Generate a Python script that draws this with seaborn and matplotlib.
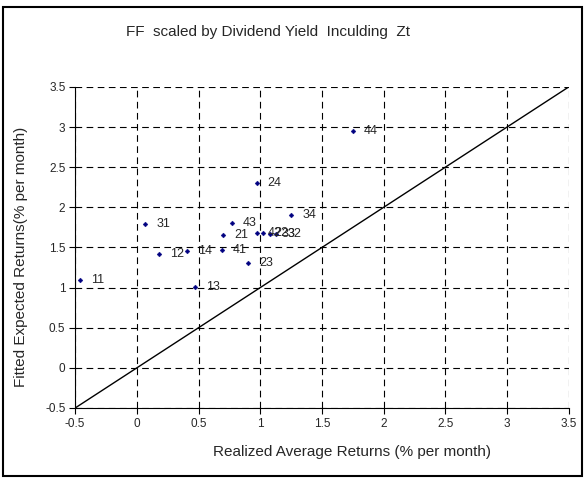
import numpy as np
import pandas as pd
import seaborn as sns
import matplotlib.pyplot as plt
from matplotlib.patches import Rectangle

# Portfolio labels and their realized / fitted returns (% per month)
portfolios = ["11", "12", "13", "14", "21", "22", "23", "24",
              "31", "32", "33", "34", "41", "42", "43", "44"]
realized = [-0.46, 0.18, 0.47, 0.41, 0.70, 1.02, 0.90, 0.97,
            0.07, 1.13, 1.08, 1.25, 0.69, 0.97, 0.77, 1.75]
fitted = [1.10, 1.42, 1.01, 1.45, 1.65, 1.68, 1.31, 2.30,
          1.79, 1.67, 1.67, 1.91, 1.47, 1.68, 1.81, 2.95]

# 45 degree reference line
line_x = [-0.5, 3.5]
line_y = [-0.5, 3.5]

ticks = np.arange(-0.5, 3.51, 0.5)
tick_labels = ["-0.5", "0", "0.5", "1", "1.5", "2", "2.5", "3", "3.5"]

df = pd.DataFrame({"port": portfolios, "realized": realized, "fitted": fitted})

sns.set_style("white")
plt.rcParams["font.family"] = ["Liberation Sans", "DejaVu Sans"]

fig = plt.figure(figsize=(5.87, 4.80), dpi=100)
ax = fig.add_axes([0.128, 0.15, 0.841, 0.669])

# dashed grid
for t in ticks:
    ax.axvline(t, color="black", lw=0.8, ls=(0, (6, 4)), zorder=1)
    ax.axhline(t, color="black", lw=0.8, ls=(0, (6, 4)), zorder=1)

sns.lineplot(x=line_x, y=line_y, color="black", lw=1, ax=ax, zorder=2)
sns.scatterplot(data=df, x="realized", y="fitted", color="#000080", marker="D",
                s=6, edgecolor="#000080", linewidth=0.3, ax=ax, zorder=3)

for _, r in df.iterrows():
    ax.annotate(r["port"], (r["realized"], r["fitted"]), xytext=(8, 0),
                textcoords="offset points", va="center", ha="left", fontsize=9)

ax.set_xlim(-0.5, 3.5)
ax.set_ylim(-0.5, 3.5)
ax.set_xticks(ticks)
ax.set_xticklabels(tick_labels, fontsize=8.5)
ax.set_yticks(ticks)
ax.set_yticklabels(tick_labels, fontsize=8.5)
ax.tick_params(direction="out", length=4, width=0.8, color="black", pad=3,
               bottom=True, left=True)

for side in ["top", "right"]:
    ax.spines[side].set_visible(False)
for side in ["left", "bottom"]:
    ax.spines[side].set_color("black")
    ax.spines[side].set_linewidth(0.8)

ax.set_xlabel("Realized Average Returns (% per month)", fontsize=11)
ax.set_ylabel("Fitted Expected Returns(% per month)", fontsize=11)
ax.xaxis.set_label_coords(0.56, -0.115)
ax.yaxis.set_label_coords(-0.095, 0.47)

fig.text(0.456, 0.933, "FF  scaled by Dividend Yield  Inculding  Zt",
         ha="center", va="center", fontsize=11)

# outer chart frame
fig.patches.append(Rectangle((0.005, 0.008), 0.987, 0.978, transform=fig.transFigure,
                             fill=False, edgecolor="black", lw=1.5))

fig.savefig("out.png", dpi=100)
